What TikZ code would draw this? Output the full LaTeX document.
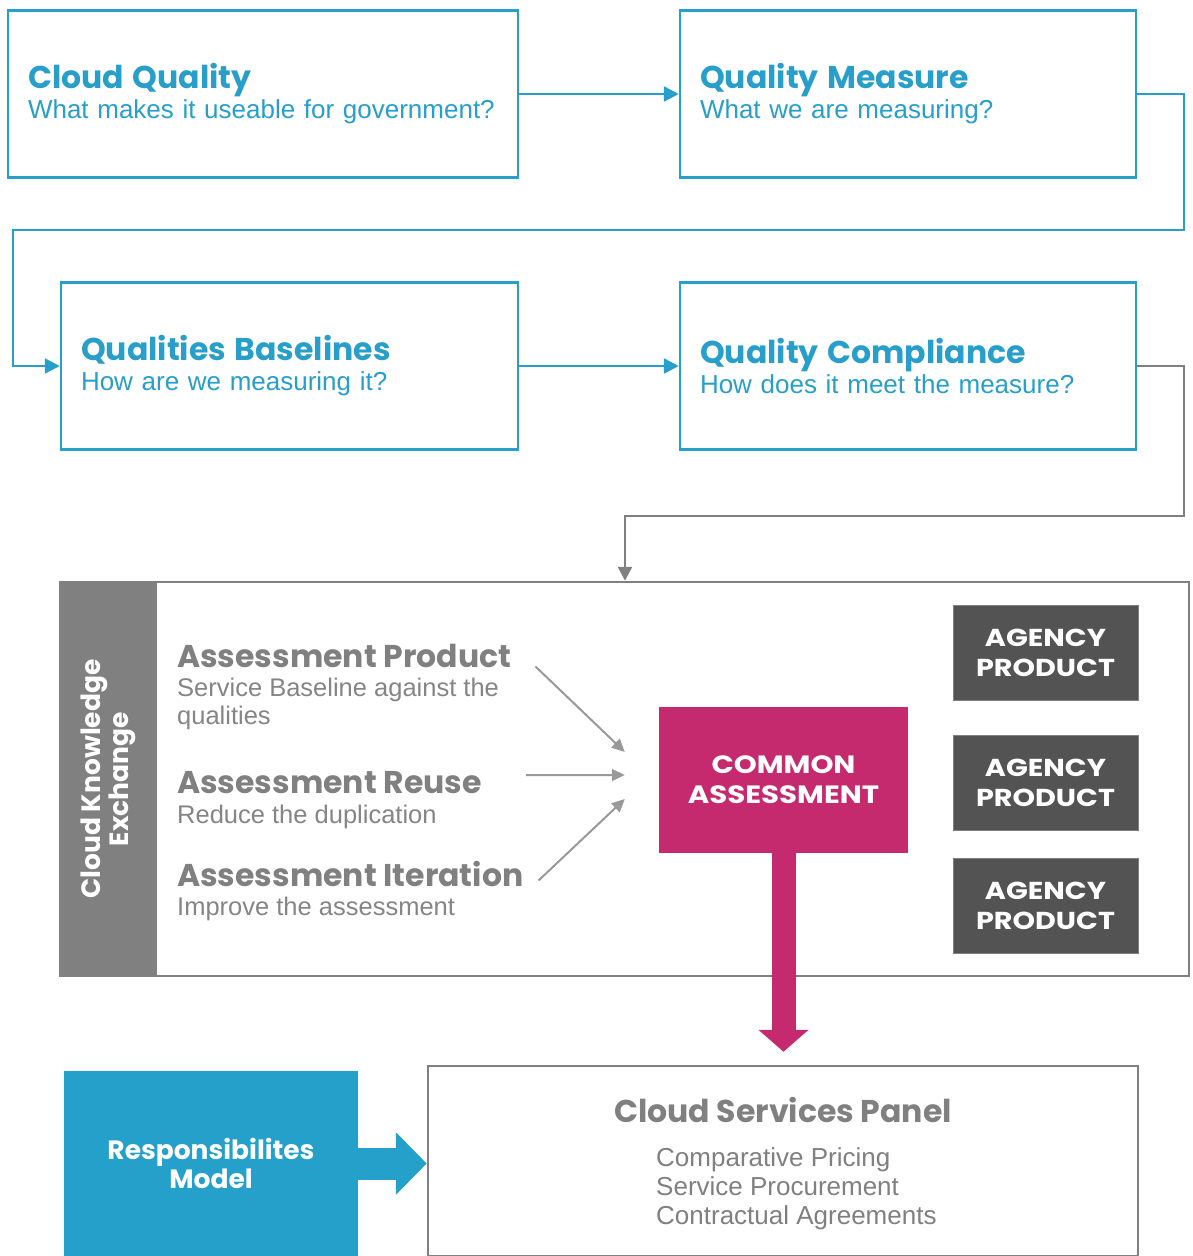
\documentclass[tikz,border=0pt]{standalone}
\usepackage{fontspec}
\setmainfont{Liberation Sans}
\newfontfamily\headfont{Poppins}
\newfontfamily\capfont{Poppins}[FakeStretch=1.17]
\usetikzlibrary{arrows.meta,calc}
\definecolor{cqblue}{RGB}{40,158,202}
\definecolor{rblue}{RGB}{36,160,203}
\definecolor{cgrey}{RGB}{128,128,128}
\definecolor{cgreyt}{RGB}{133,133,133}
\definecolor{cdark}{RGB}{83,83,83}
\definecolor{cmag}{RGB}{197,41,110}
\newcommand{\flowhead}[1]{{\headfont\bfseries\fontsize{31.5}{30}\selectfont #1}}
\tikzset{
  flowbox/.style={draw=cqblue, line width=2.5pt, minimum height=167pt, inner xsep=20pt,
    align=left, text=cqblue, font=\fontsize{26}{30}\selectfont},
  flowline/.style={draw=cqblue, line width=2.5pt, -{Triangle[length=15pt,width=15pt]}},
  greyline/.style={draw=cgrey, line width=2.5pt, -{Triangle[length=14pt,width=14pt]}},
  feed/.style={draw=cgrey!80, line width=2pt, -{Triangle[length=13pt,width=12pt]}},
  itemhead/.style={anchor=base west, inner sep=0pt, text=cgrey,
    font=\headfont\bfseries\fontsize{31.5}{34}\selectfont},
  itemtext/.style={anchor=base west, inner sep=0pt, align=left, text=cgreyt,
    font=\fontsize{25.5}{28}\selectfont},
  agency/.style={fill=cdark, draw=cgrey, line width=0.8pt, minimum width=185pt, minimum height=95pt,
    align=center, text=white, font=\capfont\bfseries\fontsize{24.5}{30}\selectfont},
}
\begin{document}
\begin{tikzpicture}[x=1pt,y=-1pt]
		%%%%% START %%%%%
		\useasboundingbox (0,0) rectangle (1192,1256);
		
		% four flow boxes
		\node[flowbox, minimum width=510pt, text width=470pt] (cq) at (263,94) {\flowhead{Cloud Quality}\\What makes it useable for government?};
		\node[flowbox, minimum width=456pt, text width=416pt] (qm) at (908,94) {\flowhead{Quality Measure}\\What we are measuring?};
		\node[flowbox, minimum width=457pt, text width=417pt] (qb) at (289.5,366) {\flowhead{Qualities Baselines}\\How are we measuring it?};
		\node[flowbox, minimum width=456pt, text width=416pt] (qc) at (908,366) {\flowhead{Quality Compliance}\\How does it meet the measure?};
		
		\coordinate (r1) at (1184,230);
		\coordinate (l1) at (13,230);
		\coordinate (r2) at (1184,516);
		\coordinate (l2) at (625,516);
		
		\draw[flowline] (cq.east) -- (qm.west);
		\draw[flowline] (qm.east) -| (r1) -- (l1) |- (qb.west);
		\draw[flowline] (qb.east) -- (qc.west);
		
		% knowledge exchange panel
		\node[draw=cgrey, line width=2.5pt, minimum width=1129pt, minimum height=394pt] (cke) at (624.5,779) {};
		\node[fill=cgrey, minimum width=394pt, minimum height=97pt, rotate=90, align=center, text=white,
			font=\headfont\bfseries\fontsize{26.5}{28}\selectfont] (ckx) at (108.5,779) {Cloud Knowledge\\Exchange};
		\draw[greyline] (qc.east) -| (r2) -- (l2) -- (l2 |- cke.north);
		
		\node[itemhead] (ap) at (177,667) {Assessment Product};
		\node[itemtext, anchor=north west] (apd) at (177,678) {Service Baseline against the\\qualities};
		\node[itemhead] (ar) at (177,793) {Assessment Reuse};
		\node[itemtext] (ard) at (177,823) {Reduce the duplication};
		\node[itemhead] (ai) at (177,886) {Assessment Iteration};
		\node[itemtext] (aid) at (177,915) {Improve the assessment};
		
		\node[fill=cmag, minimum width=249pt, minimum height=146pt, align=center, text=white,
			font=\capfont\bfseries\fontsize{25}{30}\selectfont] (ca) at (783.5,780) {COMMON\\ASSESSMENT};
		
		\draw[feed] ([shift={(24,11)}]ap.east) -- ([shift={(-34,-28)}]ca.west);
		\draw[feed] ([shift={(44,-7)}]ar.east) -- ([shift={(-34,-5)}]ca.west);
		\draw[feed] ([shift={(15,7)}]ai.east) -- ([shift={(-34,19)}]ca.west);
		
		\foreach \yy/\nm in {653/ag1, 783/ag2, 905.5/ag3}
			\node[agency] (\nm) at (1045.5,\yy) {AGENCY\\PRODUCT};
		
		% bottom row
		\node[draw=cgrey, line width=2.5pt, minimum width=710pt, minimum height=190pt] (csp) at (783,1161) {};
		\node[anchor=base, text=cgrey, font=\headfont\bfseries\fontsize{31.5}{34}\selectfont] (cspt) at (783,1122) {Cloud Services Panel};
		\node[itemtext, anchor=north west, text=cgrey, font=\fontsize{26}{29}\selectfont] (cspl) at (656,1147) {Comparative Pricing\\Service Procurement\\Contractual Agreements};
		
		\node[fill=rblue, minimum width=294pt, minimum height=185pt, align=center, text=white,
			font=\headfont\bfseries\fontsize{26.5}{29}\selectfont] (rm) at (211,1163.5) {Responsibilites\\Model};
		
		\draw[cmag, line width=24pt, -{Triangle[length=22pt,width=49pt]}] (ca.south) -- ([yshift=13pt]ca.south |- csp.north);
		\draw[rblue, line width=32pt, -{Triangle[length=31pt,width=61pt]}] (rm.east) -- (rm.east -| csp.west);
		%%%%% END %%%%%
\end{tikzpicture}
\end{document}
